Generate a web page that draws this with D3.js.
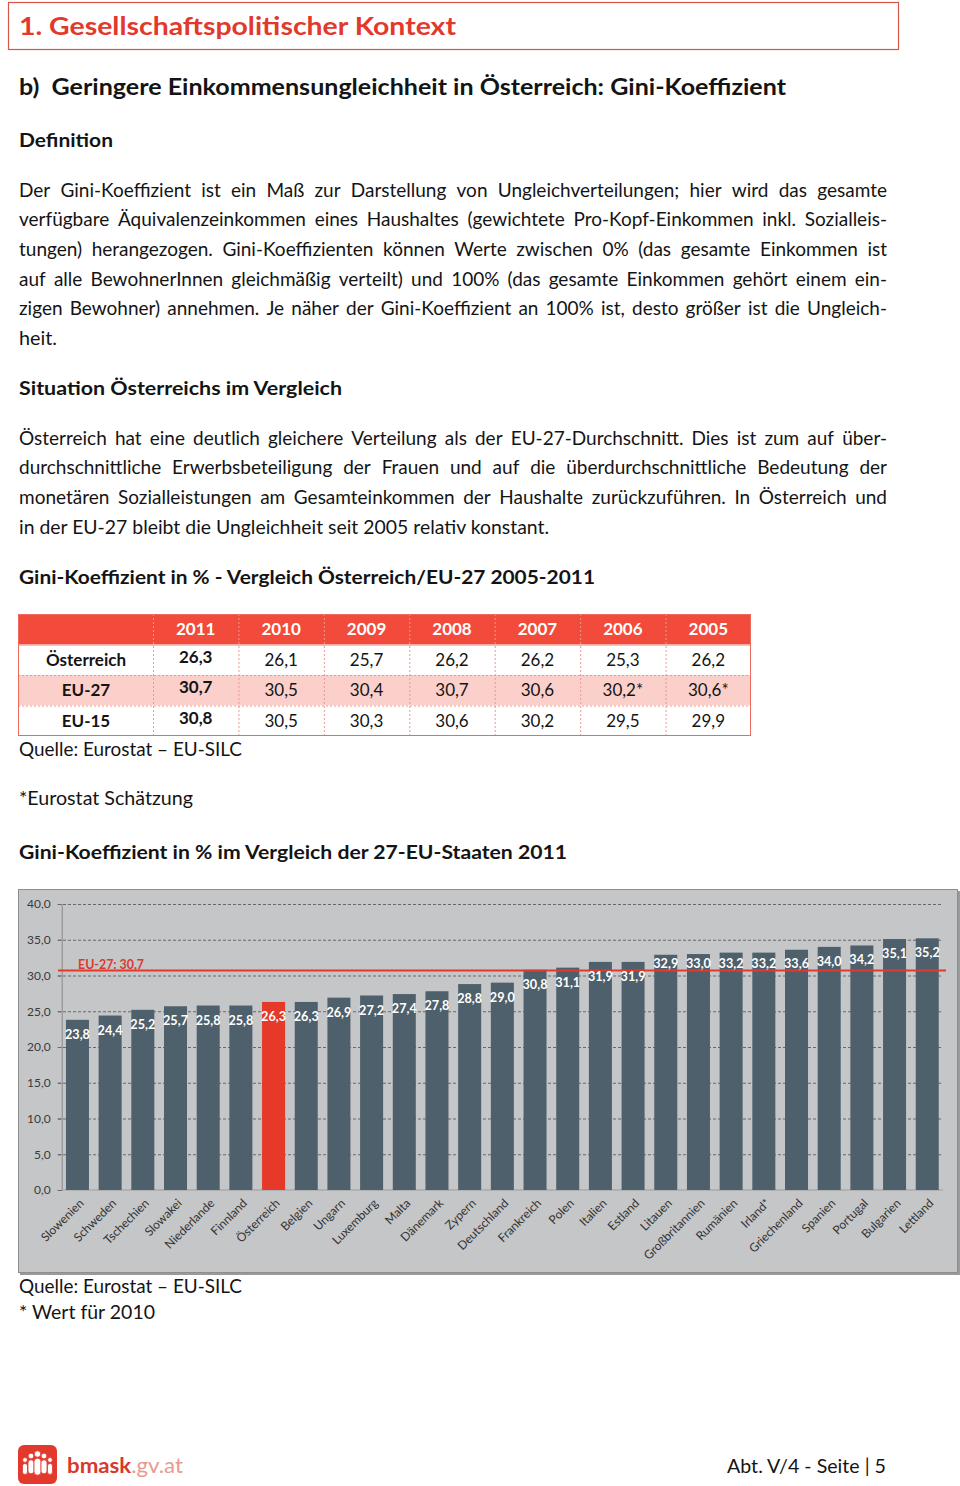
<!DOCTYPE html>
<html>
<head>
<meta charset="utf-8">
<script src="https://cdn.jsdelivr.net/npm/d3@7"></script>
<style>
  body { margin: 0; background: #fff; }
  svg { display: block; font-family: Lato, 'Open Sans', sans-serif; }
</style>
</head>
<body>
<svg id="page" width="960" height="1486"></svg>
<script>
// ---- table data (Gini in %, 2011 -> 2005)
const years = ['2011', '2010', '2009', '2008', '2007', '2006', '2005'];
const rowLabels = ['Österreich', 'EU-27', 'EU-15'];
const austriaValues = [26.3, 26.1, 25.7, 26.2, 26.2, 25.3, 26.2];
const eu27Values = [30.7, 30.5, 30.4, 30.7, 30.6, 30.2, 30.6];
const eu15Values = [30.8, 30.5, 30.3, 30.6, 30.2, 29.5, 29.9];
const eu27EstimateYears = ['2006', '2005'];

// ---- bar chart data (2011)
const countries = ['Slowenien', 'Schweden', 'Tschechien', 'Slowakei', 'Niederlande', 'Finnland',
  'Österreich', 'Belgien', 'Ungarn', 'Luxemburg', 'Malta', 'Dänemark', 'Zypern', 'Deutschland',
  'Frankreich', 'Polen', 'Italien', 'Estland', 'Litauen', 'Großbritannien', 'Rumänien', 'Irland*',
  'Griechenland', 'Spanien', 'Portugal', 'Bulgarien', 'Lettland'];
const giniValues = [23.8, 24.4, 25.2, 25.7, 25.8, 25.8, 26.3, 26.3, 26.9, 27.2, 27.4, 27.8, 28.8, 29.0,
  30.8, 31.1, 31.9, 31.9, 32.9, 33.0, 33.2, 33.2, 33.6, 34.0, 34.2, 35.1, 35.2];
const highlightCountry = 'Österreich';
const eu27Average = 30.7;
const yTicks = [0, 5, 10, 15, 20, 25, 30, 35, 40];

// ---- text
const definitionLines = [
  'Der Gini-Koeffizient ist ein Maß zur Darstellung von Ungleichverteilungen; hier wird das gesamte',
  'verfügbare Äquivalenzeinkommen eines Haushaltes (gewichtete Pro-Kopf-Einkommen inkl. Sozialleis-',
  'tungen) herangezogen. Gini-Koeffizienten können Werte zwischen 0% (das gesamte Einkommen ist',
  'auf alle BewohnerInnen gleichmäßig verteilt) und 100% (das gesamte Einkommen gehört einem ein-',
  'zigen Bewohner) annehmen. Je näher der Gini-Koeffizient an 100% ist, desto größer ist die Ungleich-',
  'heit.'
];
const situationLines = [
  'Österreich hat eine deutlich gleichere Verteilung als der EU-27-Durchschnitt. Dies ist zum auf über-',
  'durchschnittliche Erwerbsbeteiligung der Frauen und auf die überdurchschnittliche Bedeutung der',
  'monetären Sozialleistungen am Gesamteinkommen der Haushalte zurückzuführen. In Österreich und',
  'in der EU-27 bleibt die Ungleichheit seit 2005 relativ konstant.'
];

const RED = '#e2392c';
const TEXT = '#141414';
const BODY = 19;
const de = d3.formatLocale({ decimal: ',', thousands: '.', grouping: [3], currency: ['', ' €'] });
const fmt = de.format('.1f');

const svg = d3.select('#page');

// plain text line, squeezed to a target width when given
function textLine(x, y, str, size, opts = {}) {
  const t = svg.append('text')
    .attr('x', x).attr('y', y)
    .attr('font-size', size)
    .attr('font-weight', opts.bold ? 700 : 400)
    .attr('fill', opts.fill || TEXT)
    .text(str);
  if (opts.width) {
    t.attr('textLength', opts.width).attr('lengthAdjust', 'spacingAndGlyphs');
  }
  return t;
}

// justified line: words spread between x0 and x1
function justifyLine(x0, x1, y, str, size) {
  const g = svg.append('g');
  const words = str.split(' ');
  const nodes = words.map(w => g.append('text')
    .attr('y', y).attr('font-size', size).attr('fill', TEXT).text(w));
  const widths = nodes.map(n => n.node().getComputedTextLength());
  const total = d3.sum(widths);
  const minGap = size * 0.2;
  let gap = (x1 - x0 - total) / (words.length - 1);
  let k = 1;
  if (gap < minGap) {
    k = (x1 - x0 - minGap * (words.length - 1)) / total;
    gap = minGap;
  }
  let x = x0;
  nodes.forEach((n, i) => {
    n.attr('x', x);
    if (k < 1) n.attr('textLength', widths[i] * k).attr('lengthAdjust', 'spacingAndGlyphs');
    x += widths[i] * k + gap;
  });
}

// ---- header
svg.append('rect')
  .attr('x', 8.5).attr('y', 2.5).attr('width', 890).attr('height', 47)
  .attr('fill', 'none').attr('stroke', '#d9554b').attr('stroke-width', 1.2);
textLine(19, 35, '1. Gesellschaftspolitischer Kontext', 25, { bold: true, fill: RED, width: 437 });
textLine(19, 95, 'b)\u00a0 Geringere Einkommensungleichheit in Österreich: Gini-Koeffizient', 22, { bold: true, width: 767 });
textLine(19, 147, 'Definition', 18.5, { bold: true, width: 94 });

const lineH = 29.7;
definitionLines.forEach((l, i) => {
  const y = 196.5 + i * lineH;
  if (i < definitionLines.length - 1) justifyLine(19, 887, y, l, BODY);
  else textLine(19, y, l, BODY, { width: 38 });
});

textLine(19, 395, 'Situation Österreichs im Vergleich', 18.5, { bold: true, width: 323 });
situationLines.forEach((l, i) => {
  const y = 444.5 + i * lineH;
  if (i < situationLines.length - 1) justifyLine(19, 887, y, l, BODY);
  else textLine(19, y, l, BODY, { width: 530 });
});

textLine(19, 584, 'Gini-Koeffizient in % - Vergleich Österreich/EU-27 2005-2011', 18.5, { bold: true, width: 576 });

// ---- table
const tableRows = [
  { label: 'Österreich', values: austriaValues, fill: '#fff' },
  { label: 'EU-27', values: eu27Values, fill: '#fbcfca', estimates: eu27EstimateYears },
  { label: 'EU-15', values: eu15Values, fill: '#fff' }
];
const colX = d3.scaleBand().domain(years).range([153, 751]);
const rowY = d3.scaleBand().domain(['head', ...rowLabels]).range([614, 736]);
const tbl = svg.append('g');

tbl.append('rect')
  .attr('x', 18).attr('y', rowY('head')).attr('width', 733).attr('height', rowY.bandwidth())
  .attr('fill', '#f24a3b');
tbl.selectAll('.row-bg').data(tableRows).join('rect')
  .attr('x', 18).attr('y', d => rowY(d.label))
  .attr('width', 733).attr('height', rowY.bandwidth())
  .attr('fill', d => d.fill);

// inner dashed lines
tbl.selectAll('.hline').data(rowLabels.slice(1)).join('line')
  .attr('x1', 18).attr('x2', 751)
  .attr('y1', d => rowY(d) + 0.5).attr('y2', d => rowY(d) + 0.5)
  .attr('stroke', '#e79a92').attr('stroke-dasharray', '2,2');
tbl.selectAll('.vline').data(years).join('line')
  .attr('x1', d => colX(d) + 0.5).attr('x2', d => colX(d) + 0.5)
  .attr('y1', 614).attr('y2', 736)
  .attr('stroke', '#e79a92').attr('stroke-dasharray', '2,2');
tbl.append('line')
  .attr('x1', 18).attr('x2', 751).attr('y1', rowY(rowLabels[0]) + 0.5).attr('y2', rowY(rowLabels[0]) + 0.5)
  .attr('stroke', '#e8857b');
tbl.append('rect')
  .attr('x', 18.5).attr('y', 614.5).attr('width', 732).attr('height', 121)
  .attr('fill', 'none').attr('stroke', '#ef6a5e');

// header years
tbl.selectAll('.year').data(years).join('text')
  .attr('x', d => colX(d) + colX.bandwidth() / 2)
  .attr('y', rowY('head') + rowY.bandwidth() / 2 + 6)
  .attr('text-anchor', 'middle').attr('font-size', 17).attr('font-weight', 700)
  .attr('fill', '#fff').text(d => d);

// row labels and values
const rowsG = tbl.selectAll('.trow').data(tableRows).join('g')
  .attr('transform', d => `translate(0,${rowY(d.label) + rowY.bandwidth() / 2 + 6})`);
rowsG.append('text')
  .attr('x', 86).attr('text-anchor', 'middle')
  .attr('font-size', 17).attr('font-weight', 700).attr('fill', TEXT)
  .text(d => d.label);
rowsG.selectAll('.val')
  .data(d => d.values.map((v, i) => ({ v, year: years[i], est: (d.estimates || []).includes(years[i]) })))
  .join('text')
  .attr('x', d => colX(d.year) + colX.bandwidth() / 2)
  .attr('y', d => d.year === years[0] ? -3 : 0)
  .attr('text-anchor', 'middle').attr('font-size', 17)
  .attr('font-weight', d => d.year === years[0] ? 700 : 400)
  .attr('fill', TEXT)
  .text(d => fmt(d.v) + (d.est ? '*' : ''));

textLine(19, 756, 'Quelle: Eurostat – EU-SILC', BODY, { width: 223 });
textLine(19, 805, '*Eurostat Schätzung', BODY, { width: 174 });
textLine(19, 859, 'Gini-Koeffizient in % im Vergleich der 27-EU-Staaten 2011', 18.5, { bold: true, width: 548 });

// ---- bar chart
const chart = svg.append('g');
chart.append('rect')
  .attr('x', 20).attr('y', 891).attr('width', 940).attr('height', 384)
  .attr('fill', '#9a9a9a');
chart.append('rect')
  .attr('x', 18.5).attr('y', 889.5).attr('width', 939).attr('height', 383)
  .attr('fill', '#c5c6c8').attr('stroke', '#8e8e8e');

const axisX = 61.7;
const x = d3.scaleBand()
  .domain(countries)
  .range([axisX, 943])
  .paddingInner(0.296)
  .paddingOuter(0.13);
const y = d3.scaleLinear().domain([0, 40]).range([1190, 904]);

// gridlines
const grid = chart.append('g')
  .attr('transform', 'translate(58,0)')
  .call(d3.axisLeft(y).tickValues(yTicks.filter(t => t > 0)).tickSize(-885).tickFormat(''));
grid.select('.domain').remove();
grid.selectAll('.tick line')
  .attr('stroke', '#5e5e5e').attr('stroke-dasharray', '3,2').attr('stroke-width', 0.9);

// y axis with labels
const yAxisG = chart.append('g')
  .attr('transform', `translate(${axisX},0)`)
  .call(d3.axisLeft(y).tickValues(yTicks).tickSize(4).tickPadding(7).tickFormat(fmt));
yAxisG.select('.domain').attr('stroke', '#8a8a8a');
yAxisG.selectAll('.tick line').attr('stroke', '#6a6a6a');
yAxisG.selectAll('.tick text')
  .attr('font-family', 'Lato, sans-serif').attr('font-size', 12).attr('fill', '#3a3a3a');

// zero line
chart.append('line')
  .attr('x1', axisX).attr('x2', 943).attr('y1', y(0)).attr('y2', y(0))
  .attr('stroke', '#9c9c9c');

// bars
const bars = countries.map((c, i) => ({ country: c, value: giniValues[i] }));
chart.selectAll('.bar').data(bars).join('rect')
  .attr('class', 'bar')
  .attr('x', d => x(d.country))
  .attr('width', x.bandwidth())
  .attr('y', d => y(d.value))
  .attr('height', d => y(0) - y(d.value))
  .attr('fill', d => d.country === highlightCountry ? '#e5392a' : '#4e606c');

// EU-27 average line
const avgY = y(eu27Average);
chart.append('line')
  .attr('x1', 58).attr('x2', 946).attr('y1', avgY).attr('y2', avgY)
  .attr('stroke', RED).attr('stroke-width', 2);
chart.append('text')
  .attr('x', 78).attr('y', avgY - 1.5)
  .attr('font-size', 12.5).attr('font-weight', 700).attr('fill', '#d93a2e')
  .attr('textLength', 66).attr('lengthAdjust', 'spacingAndGlyphs')
  .text('EU-27: ' + fmt(eu27Average));

// value labels inside bar tops; a label that would sit on the average line moves above it
function labelY(v) {
  const c = y(v) + 14.5;
  return (c > avgY - 7 && c < avgY + 4) ? avgY - 7 : c;
}
chart.selectAll('.val').data(bars).join('text')
  .attr('x', d => x(d.country) + x.bandwidth() / 2)
  .attr('y', d => labelY(d.value) + 4.5)
  .attr('text-anchor', 'middle')
  .attr('font-size', 12.5).attr('font-weight', 700).attr('fill', '#fff')
  .attr('textLength', 25).attr('lengthAdjust', 'spacingAndGlyphs')
  .text(d => fmt(d.value));

// rotated country labels
chart.selectAll('.xlab').data(countries).join('text')
  .attr('transform', d => `translate(${x(d) + x.bandwidth() / 2 + 4},${y(0) + 11}) rotate(-45)`)
  .attr('text-anchor', 'end')
  .attr('dy', '0.35em')
  .attr('font-size', 12).attr('fill', '#333')
  .text(d => d);

textLine(19, 1293, 'Quelle: Eurostat – EU-SILC', BODY, { width: 223 });
textLine(19, 1319, '* Wert für 2010', BODY, { width: 136 });

// ---- footer
const logo = svg.append('g').attr('transform', 'translate(18,1445)');
logo.append('rect').attr('width', 39).attr('height', 39).attr('rx', 6).attr('fill', RED);
const people = [
  { cx: 7, hy: 15, r: 2.4, w: 5, h: 11 },
  { cx: 13, hy: 11, r: 2.8, w: 6, h: 14 },
  { cx: 19.5, hy: 9, r: 3.2, w: 7, h: 17 },
  { cx: 26, hy: 11, r: 2.8, w: 6, h: 14 },
  { cx: 32, hy: 15, r: 2.4, w: 5, h: 11 }
];
people.forEach(p => {
  logo.append('circle').attr('cx', p.cx).attr('cy', p.hy).attr('r', p.r)
    .attr('fill', '#fff').attr('stroke', RED).attr('stroke-width', 0.8);
  logo.append('rect').attr('x', p.cx - p.w / 2).attr('y', p.hy + p.r + 1)
    .attr('width', p.w).attr('height', p.h).attr('rx', p.w / 2)
    .attr('fill', '#fff').attr('stroke', RED).attr('stroke-width', 0.8);
});
const brand = svg.append('text').attr('x', 67).attr('y', 1473).attr('font-size', 21)
  .attr('textLength', 116).attr('lengthAdjust', 'spacingAndGlyphs');
brand.append('tspan').attr('fill', '#d8392c').attr('font-weight', 700).text('bmask');
brand.append('tspan').attr('fill', '#e99a91').text('.gv.at');

textLine(727, 1473, 'Abt. V/4 - Seite | 5', BODY, { width: 159 });
</script>
</body>
</html>
